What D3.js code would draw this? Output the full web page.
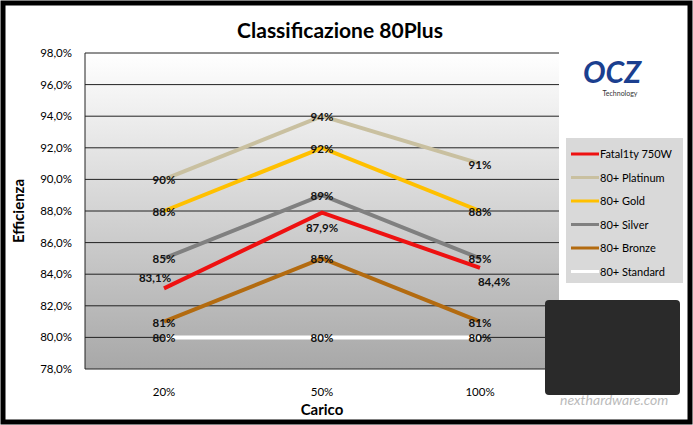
<!DOCTYPE html>
<html><head><meta charset="utf-8">
<script src="https://cdn.jsdelivr.net/npm/d3@7"></script>
<style>body{margin:0;background:#fff}svg{font-family:Lato,"Open Sans",sans-serif}</style>
</head><body><svg id="chart" width="693" height="425"></svg>
<script>
const loads = ["20%", "50%", "100%"]
const seriesNames = ["Fatal1ty 750W", "80+ Platinum", "80+ Gold", "80+ Silver", "80+ Bronze", "80+ Standard"]
const seriesColors = ["#ee1111", "#c9c0a0", "#ffc000", "#808080", "#b36b10", "#ffffff"]
const fatality = [83.1, 87.9, 84.4]
const platinum = [90, 94, 91]
const gold = [88, 92, 88]
const silver = [85, 89, 85]
const bronze = [81, 85, 81]
const standard = [80, 80, 80]
const yTicks = [78, 80, 82, 84, 86, 88, 90, 92, 94, 96, 98]

const series = [fatality, platinum, gold, silver, bronze, standard]
const svg = d3.select("#chart")
const m = {l: 85, r: 134, t: 53, b: 56}
const W = 693, H = 425

const defs = svg.append("defs")
const g1 = defs.append("linearGradient").attr("id", "bg").attr("x1", 0).attr("x2", 0).attr("y1", 0).attr("y2", 1)
g1.append("stop").attr("offset", "0").attr("stop-color", "#ffffff")
g1.append("stop").attr("offset", "1").attr("stop-color", "#a8a8a8")

svg.append("rect").attr("x", 3).attr("y", 3).attr("width", W - 6).attr("height", H - 6)
  .attr("fill", "#fff").attr("stroke", "#000").attr("stroke-width", 5)

const x = d3.scaleBand().domain(loads).range([m.l, W - m.r])
const y = d3.scaleLinear().domain([78, 98]).range([H - m.b, m.t])

svg.append("rect").attr("x", m.l).attr("y", m.t).attr("width", W - m.r - m.l).attr("height", H - m.b - m.t)
  .attr("fill", "url(#bg)")

svg.append("g").selectAll("line").data(yTicks).join("line")
  .attr("x1", m.l).attr("x2", W - m.r).attr("y1", d => y(d)).attr("y2", d => y(d))
  .attr("stroke", "#222").attr("stroke-width", 1)
svg.append("line").attr("x1", m.l).attr("x2", m.l).attr("y1", m.t).attr("y2", H - m.b).attr("stroke", "#222")

svg.append("g").selectAll("text").data(yTicks).join("text")
  .attr("x", 72).attr("y", d => y(d) + 4).attr("text-anchor", "end").attr("font-size", 11.5)
  .text(d => d.toFixed(1).replace(".", ",") + "%")
svg.append("g").selectAll("text").data(loads).join("text")
  .attr("x", d => x(d) + x.bandwidth() / 2).attr("y", H - m.b + 27).attr("text-anchor", "middle").attr("font-size", 11.5)
  .text(d => d)

svg.append("text").attr("x", 340).attr("y", 38).attr("text-anchor", "middle").attr("font-size", 21).attr("font-weight", "bold").text("Classificazione 80Plus")
svg.append("text").attr("x", 322).attr("y", 415).attr("text-anchor", "middle").attr("font-size", 15).attr("font-weight", "bold").text("Carico")
svg.append("text").attr("transform", "translate(24,211) rotate(-90)").attr("text-anchor", "middle").attr("font-size", 15).attr("font-weight", "bold").text("Efficienza")

const line = d3.line().x((d, i) => x(loads[i]) + x.bandwidth() / 2).y(d => y(d))
// draw back to front so the red line sits on top
for (let s = series.length - 1; s >= 0; s--) {
  svg.append("path").datum(series[s]).attr("d", line).attr("fill", "none")
    .attr("stroke", seriesColors[s]).attr("stroke-width", 4)
}
const fmt = v => (Number.isInteger(v) ? v : v.toFixed(1).replace(".", ",")) + "%"
series.forEach((vals, s) => {
  vals.forEach((v, i) => {
    let cx = x(loads[i]) + x.bandwidth() / 2, cy = y(v) + 5
    if (s === 0) {
      if (i === 0) { cx -= 9; cy -= 11 }
      if (i === 1) { cy += 14 }
      if (i === 2) { cx += 14; cy += 13 }
    }
    svg.append("text").attr("x", cx).attr("y", cy).attr("text-anchor", "middle")
      .attr("font-size", 11.5).attr("font-weight", "bold").attr("fill", "#111").text(fmt(v))
  })
})

// logo
svg.append("rect").attr("x", 561).attr("y", 52).attr("width", 120).attr("height", 58).attr("fill", "#fff")
svg.append("text").attr("x", 612).attr("y", 83).attr("text-anchor", "middle").attr("font-size", 30)
  .attr("font-weight", "bold").attr("font-style", "italic").attr("fill", "#1b3f8f").text("OCZ")
svg.append("text").attr("x", 620).attr("y", 96).attr("text-anchor", "middle").attr("font-size", 7).attr("fill", "#333").text("Technology")

// legend
const lg = svg.append("g").attr("transform", "translate(566,138)")
lg.append("rect").attr("width", 117).attr("height", 145).attr("fill", "#d9d9d9")
seriesNames.forEach((n, i) => {
  const yy = 16 + i * 23.5
  lg.append("line").attr("x1", 5).attr("x2", 33).attr("y1", yy).attr("y2", yy).attr("stroke", seriesColors[i]).attr("stroke-width", 3)
  lg.append("text").attr("x", 34).attr("y", yy + 4).attr("font-size", 11).text(n)
})

// product photo placeholder
svg.append("rect").attr("x", 545).attr("y", 300).attr("width", 135).attr("height", 95).attr("fill", "#2a2a2a").attr("rx", 4)
svg.append("text").attr("x", 560).attr("y", 405).attr("font-size", 14).attr("fill", "#bbb").attr("font-style", "italic").text("nexthardware.com")
</script></body></html>
